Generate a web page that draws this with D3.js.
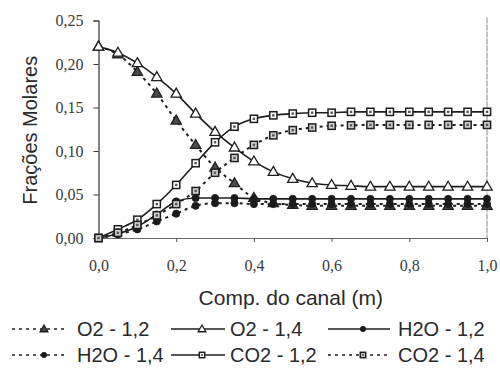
<!DOCTYPE html>
<html>
<head>
<meta charset="utf-8">
<script src="https://cdn.jsdelivr.net/npm/d3@7/dist/d3.min.js"></script>
<style>
  html, body { margin: 0; padding: 0; background: #ffffff; }
  svg { display: block; }
</style>
</head>
<body>
<svg id="chart" width="500" height="376"></svg>
<script>
// Channel positions (m)
const positions = [0.00, 0.05, 0.10, 0.15, 0.20, 0.25, 0.30, 0.35, 0.40, 0.45, 0.50,
                   0.55, 0.60, 0.65, 0.70, 0.75, 0.80, 0.85, 0.90, 0.95, 1.00];

// Molar fractions along the channel
const o2_12  = [0.220, 0.211, 0.191, 0.166, 0.135, 0.107, 0.081, 0.063, 0.046, 0.040, 0.038,
                0.037, 0.037, 0.037, 0.037, 0.037, 0.037, 0.037, 0.037, 0.037, 0.037];
const o2_14  = [0.220, 0.213, 0.201, 0.185, 0.166, 0.143, 0.122, 0.104, 0.088, 0.076, 0.068,
                0.063, 0.061, 0.060, 0.059, 0.059, 0.059, 0.059, 0.059, 0.059, 0.059];
const h2o_12 = [0.000, 0.005, 0.013, 0.027, 0.042, 0.046, 0.046, 0.046, 0.045, 0.045, 0.045,
                0.045, 0.045, 0.045, 0.045, 0.045, 0.045, 0.045, 0.045, 0.045, 0.045];
const h2o_14 = [0.000, 0.004, 0.010, 0.019, 0.028, 0.037, 0.040, 0.040, 0.039, 0.039, 0.039,
                0.039, 0.039, 0.039, 0.039, 0.039, 0.039, 0.039, 0.039, 0.039, 0.039];
const co2_12 = [0.000, 0.010, 0.021, 0.039, 0.061, 0.086, 0.110, 0.128, 0.137, 0.141, 0.143,
                0.144, 0.144, 0.145, 0.145, 0.145, 0.145, 0.145, 0.145, 0.145, 0.145];
const co2_14 = [0.000, 0.006, 0.015, 0.026, 0.039, 0.054, 0.075, 0.092, 0.107, 0.118, 0.124,
                0.127, 0.129, 0.1295, 0.130, 0.130, 0.130, 0.130, 0.130, 0.130, 0.130];

const xTicks = [0, 0.2, 0.4, 0.6, 0.8, 1.0];
const xTickLabels = ["0,0", "0,2", "0,4", "0,6", "0,8", "1,0"];
const yTicks = [0, 0.05, 0.10, 0.15, 0.20, 0.25];
const yTickLabels = ["0,00", "0,05", "0,10", "0,15", "0,20", "0,25"];

const seriesNames = ["O2 - 1,2", "O2 - 1,4", "H2O - 1,2", "H2O - 1,4", "CO2 - 1,2", "CO2 - 1,4"];
const seriesValues = [o2_12, o2_14, h2o_12, h2o_14, co2_12, co2_14];

const yTitle = "Frações Molares";
const xTitle = "Comp. do canal (m)";

// ---- styling per series ----
const styles = {
  "O2 - 1,2":  { dash: "3,4", marker: "tri",    fill: "#4a4a4a" },
  "O2 - 1,4":  { dash: null,  marker: "tri",    fill: "#ffffff" },
  "H2O - 1,2": { dash: null,  marker: "circle", fill: "#1a1a1a" },
  "H2O - 1,4": { dash: "3,4", marker: "circle", fill: "#1a1a1a" },
  "CO2 - 1,2": { dash: null,  marker: "square", fill: "#ffffff" },
  "CO2 - 1,4": { dash: "3,4", marker: "square", fill: "#cfcfcf" }
};

const SERIF = "'Liberation Serif', 'Times New Roman', Times, serif";
const SANS = "'Liberation Sans', Arial, Helvetica, sans-serif";

const svg = d3.select("#chart");
const ink = "#1e1e1e";

const x = d3.scaleLinear().domain([0, 1]).range([98.5, 487]);
const y = d3.scaleLinear().domain([0, 0.25]).range([238, 20.5]);

// faint right border
svg.append("line")
  .attr("x1", x(1)).attr("x2", x(1)).attr("y1", y(0.25) - 3).attr("y2", y(0))
  .attr("stroke", "#8a8a8a").attr("stroke-width", 1).attr("stroke-dasharray", "6,1");

// x axis
const xAxis = d3.axisBottom(x).tickValues(xTicks).tickSize(4)
  .tickFormat((d, i) => xTickLabels[i]);
const gx = svg.append("g").attr("transform", `translate(0,${y(0)})`).call(xAxis);
gx.attr("font-family", SERIF).attr("font-size", 16);
gx.select(".domain").attr("stroke", "#6a6a6a").attr("stroke-width", 1);
gx.selectAll(".tick line").attr("stroke", "#555");
gx.selectAll(".tick text")
  .style("font-family", SERIF)
  .attr("fill", "#3a3a3a")
  .attr("y", 33).attr("dy", 0);

// y axis
const yAxis = d3.axisLeft(y).tickValues(yTicks).tickSize(5)
  .tickFormat((d, i) => yTickLabels[i]);
const gy = svg.append("g").attr("transform", `translate(${x(0)},0)`).call(yAxis);
gy.attr("font-family", SERIF).attr("font-size", 16);
gy.select(".domain").attr("stroke", "#333").attr("stroke-width", 1.2);
gy.selectAll(".tick line").attr("stroke", "#333");
gy.selectAll(".tick text")
  .style("font-family", SERIF)
  .attr("fill", "#3a3a3a").attr("x", -15);

// axis titles
svg.append("text")
  .attr("transform", `translate(37,${(y(0) + y(0.25)) / 2 + 1}) rotate(-90)`)
  .attr("text-anchor", "middle")
  .style("font-family", SANS)
  .style("font-size", "20px").attr("fill", "#2a2a2a")
  .text(yTitle);

svg.append("text")
  .attr("x", (x(0) + x(1)) / 2 - 2).attr("y", 305)
  .attr("text-anchor", "middle")
  .style("font-family", SANS)
  .style("font-size", "21px").attr("fill", "#2a2a2a")
  .text(xTitle);

// marker drawing helper
function drawMarker(g, kind, fill, cx, cy, scale) {
  const s = scale || 1;
  if (kind === "tri") {
    g.append("path")
      .attr("d", d3.symbol().type(d3.symbolTriangle).size(46 * s * s)())
      .attr("transform", `translate(${cx},${cy + 0.5})`)
      .attr("fill", fill).attr("stroke", ink).attr("stroke-width", 1.3);
  } else if (kind === "circle") {
    g.append("circle").attr("cx", cx).attr("cy", cy).attr("r", 3.6 * s)
      .attr("fill", fill).attr("stroke", ink).attr("stroke-width", 0.8);
  } else {
    const h = 3.6 * s;
    g.append("rect").attr("x", cx - h).attr("y", cy - h)
      .attr("width", 2 * h).attr("height", 2 * h)
      .attr("fill", fill).attr("stroke", ink).attr("stroke-width", 1.5);
    g.append("rect").attr("x", cx - 1.2 * s).attr("y", cy - 1.2 * s)
      .attr("width", 2.4 * s).attr("height", 2.4 * s)
      .attr("fill", "#555");
  }
}

const line = d3.line()
  .x((d, i) => x(positions[i]))
  .y(d => y(d))
  .curve(d3.curveMonotoneX);

const plot = svg.append("g");

// lines first
seriesNames.forEach((name, k) => {
  const st = styles[name];
  plot.append("path")
    .attr("d", line(seriesValues[k]))
    .attr("fill", "none")
    .attr("stroke", ink)
    .attr("stroke-width", st.dash ? 2 : 1.6)
    .attr("stroke-dasharray", st.dash);
});

// then markers
seriesNames.forEach((name, k) => {
  const st = styles[name];
  const g = plot.append("g");
  seriesValues[k].forEach((v, i) => drawMarker(g, st.marker, st.fill, x(positions[i]), y(v), 1));
});

// legend
const legendRows = [329, 355];
const legendCols = [{ s: 12, e: 68, t: 77 }, { s: 171, e: 225, t: 230 }, { s: 328, e: 390, t: 398 }];
const legend = svg.append("g");
seriesNames.forEach((name, k) => {
  const st = styles[name];
  const row = Math.floor(k / 3), col = k % 3;
  const c = legendCols[col], ly = legendRows[row];
  legend.append("line")
    .attr("x1", c.s).attr("x2", c.e).attr("y1", ly).attr("y2", ly)
    .attr("stroke", ink).attr("stroke-width", st.dash ? 1.6 : 1.4)
    .attr("stroke-dasharray", st.dash);
  drawMarker(legend, st.marker, st.fill, (c.s + c.e) / 2 + 4, ly, 0.75);
  legend.append("text")
    .attr("x", c.t).attr("y", ly).attr("dy", "0.36em")
    .style("font-family", SANS)
    .style("font-size", "20px").attr("fill", "#2a2a2a")
    .text(name);
});
</script>
</body>
</html>
